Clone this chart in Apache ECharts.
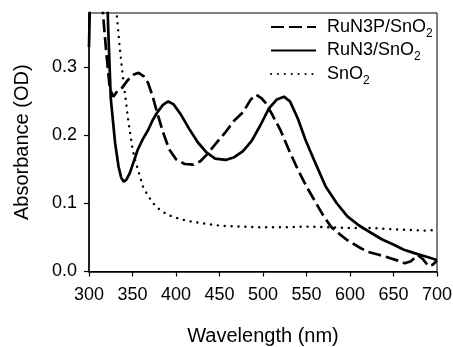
<!DOCTYPE html>
<html>
<head>
<meta charset="utf-8">
<script src="https://cdn.jsdelivr.net/npm/echarts@6/dist/echarts.min.js"></script>
<style>html,body{margin:0;padding:0;background:#fff}#c{width:453px;height:347px}</style>
</head>
<body>
<div id="c"></div>
<script>
// Tick values
var xTicks = [300, 350, 400, 450, 500, 550, 600, 650, 700];
var yTicks = [0.0, 0.1, 0.2, 0.3];

// RuN3P/SnO2 (dashed)
var wlRuN3P = [313, 316, 320, 324, 328, 333, 338, 345, 352, 357, 363, 368, 373, 378, 385, 392, 400, 410, 420, 428, 437, 447, 457, 467, 477, 486, 492, 498, 503, 510, 520, 530, 540, 550, 559, 568, 578, 588, 597, 610, 620, 632, 643, 655, 663, 670, 678, 684, 690, 695, 700];
var absRuN3P = [0.45, 0.38, 0.32, 0.268, 0.257, 0.266, 0.27, 0.282, 0.29, 0.292, 0.287, 0.277, 0.258, 0.235, 0.205, 0.18, 0.165, 0.158, 0.157, 0.162, 0.174, 0.19, 0.205, 0.222, 0.234, 0.253, 0.26, 0.255, 0.248, 0.232, 0.208, 0.178, 0.15, 0.125, 0.105, 0.085, 0.066, 0.055, 0.046, 0.036, 0.029, 0.025, 0.021, 0.016, 0.012, 0.015, 0.024, 0.018, 0.008, 0.01, 0.016];

// RuN3/SnO2 (solid)
var wlRuN3 = [300, 302, 320, 322, 325, 330, 334, 337, 340, 343, 347, 351, 356, 362, 368, 373, 378, 385, 391, 397, 405, 415, 425, 435, 445, 457, 467, 477, 487, 497, 507, 516, 524, 531, 540, 549, 560, 572, 585, 597, 610, 624, 637, 651, 662, 674, 687, 700];
var absRuN3 = [0.33, 0.45, 0.45, 0.36, 0.255, 0.189, 0.154, 0.138, 0.132, 0.135, 0.145, 0.16, 0.179, 0.195, 0.208, 0.222, 0.233, 0.245, 0.25, 0.246, 0.232, 0.21, 0.19, 0.175, 0.166, 0.164, 0.168, 0.177, 0.192, 0.215, 0.24, 0.253, 0.257, 0.25, 0.225, 0.193, 0.16, 0.125, 0.1, 0.081, 0.068, 0.057, 0.047, 0.039, 0.032, 0.027, 0.022, 0.017];

// SnO2 (dotted)
var wlSnO2 = [332, 336, 339, 345, 350, 353, 358, 362, 367, 374, 382, 391, 405, 419, 435, 453, 475, 495, 526, 550, 578, 600, 624, 650, 670, 685, 700];
var absSnO2 = [0.375, 0.32, 0.286, 0.223, 0.18, 0.164, 0.142, 0.125, 0.113, 0.1, 0.09, 0.083, 0.077, 0.073, 0.07, 0.067, 0.066, 0.065, 0.065, 0.066, 0.065, 0.064, 0.064, 0.062, 0.061, 0.06, 0.061];

var seriesNames = ['RuN3P/SnO2', 'RuN3/SnO2', 'SnO2'];
var xTitle = 'Wavelength (nm)';
var yTitle = 'Absorbance (OD)';

function zip(a, b) { return a.map(function (v, i) { return [v, b[i]]; }); }

var FONT = '"Liberation Sans", Arial, sans-serif';
var chart = echarts.init(document.getElementById('c'), null, {renderer: 'canvas'});
chart.setOption({
  animation: false,
  backgroundColor: '#fff',
  grid: {left: 89, right: 16, top: 13, bottom: 75.5, show: true, borderColor: '#000', borderWidth: 1,
    backgroundColor: 'transparent', containLabel: false, outerBoundsMode: 'none'},
  legend: {
    orient: 'vertical', left: 270, top: 18, padding: 0, itemGap: 2,
    itemWidth: 45, itemHeight: 14, align: 'left',
    data: seriesNames,
    itemStyle: {opacity: 0},
    formatter: function (n) { return '{a|' + n.replace(/2$/, '') + '}{sub|2}'; },
    textStyle: {
      fontFamily: FONT, fontSize: 18, color: '#000',
      rich: {
        a: {fontFamily: FONT, fontSize: 18, color: '#000', lineHeight: 25, padding: [0, 0, 0, 6]},
        sub: {fontFamily: FONT, fontSize: 12, color: '#000', verticalAlign: 'bottom', lineHeight: 12}
      }
    }
  },
  xAxis: {
    type: 'value', min: 300, max: 700, interval: 50,
    name: xTitle, nameLocation: 'middle', nameGap: 55,
    nameTextStyle: {fontFamily: FONT, fontSize: 20, color: '#000'},
    axisLine: {onZero: false, lineStyle: {color: '#000', width: 1.5}},
    axisTick: {show: true, length: 5, lineStyle: {color: '#000', width: 1.2}, customValues: xTicks},
    axisLabel: {fontFamily: FONT, fontSize: 18, color: '#000', margin: 15, customValues: xTicks},
    splitLine: {show: false}
  },
  yAxis: {
    type: 'value', min: 0, max: 0.38,
    name: yTitle, nameLocation: 'middle', nameGap: 57,
    nameTextStyle: {fontFamily: FONT, fontSize: 20, color: '#000'},
    axisLine: {show: true, onZero: false, lineStyle: {color: '#000', width: 1.5}},
    axisTick: {show: true, length: 5, lineStyle: {color: '#000', width: 1.2}, customValues: yTicks},
    axisLabel: {fontFamily: FONT, fontSize: 18, color: '#000', margin: 12, customValues: yTicks,
      formatter: function (v) { return v.toFixed(1); }},
    splitLine: {show: false}
  },
  series: [
    {name: seriesNames[0], type: 'line', symbol: 'none', clip: true, data: zip(wlRuN3P, absRuN3P),
      itemStyle: {color: '#000'},
      lineStyle: {color: '#000', width: 2.7, type: [13, 5]}},
    {name: seriesNames[1], type: 'line', symbol: 'none', clip: true, data: zip(wlRuN3, absRuN3),
      itemStyle: {color: '#000'},
      lineStyle: {color: '#000', width: 2.7, type: 'solid'}},
    {name: seriesNames[2], type: 'line', symbol: 'none', clip: true, data: zip(wlSnO2, absSnO2),
      itemStyle: {color: '#000'},
      lineStyle: {color: '#000', width: 2.4, type: [0.1, 6.8], cap: 'round'}}
  ]
});
</script>
</body>
</html>
